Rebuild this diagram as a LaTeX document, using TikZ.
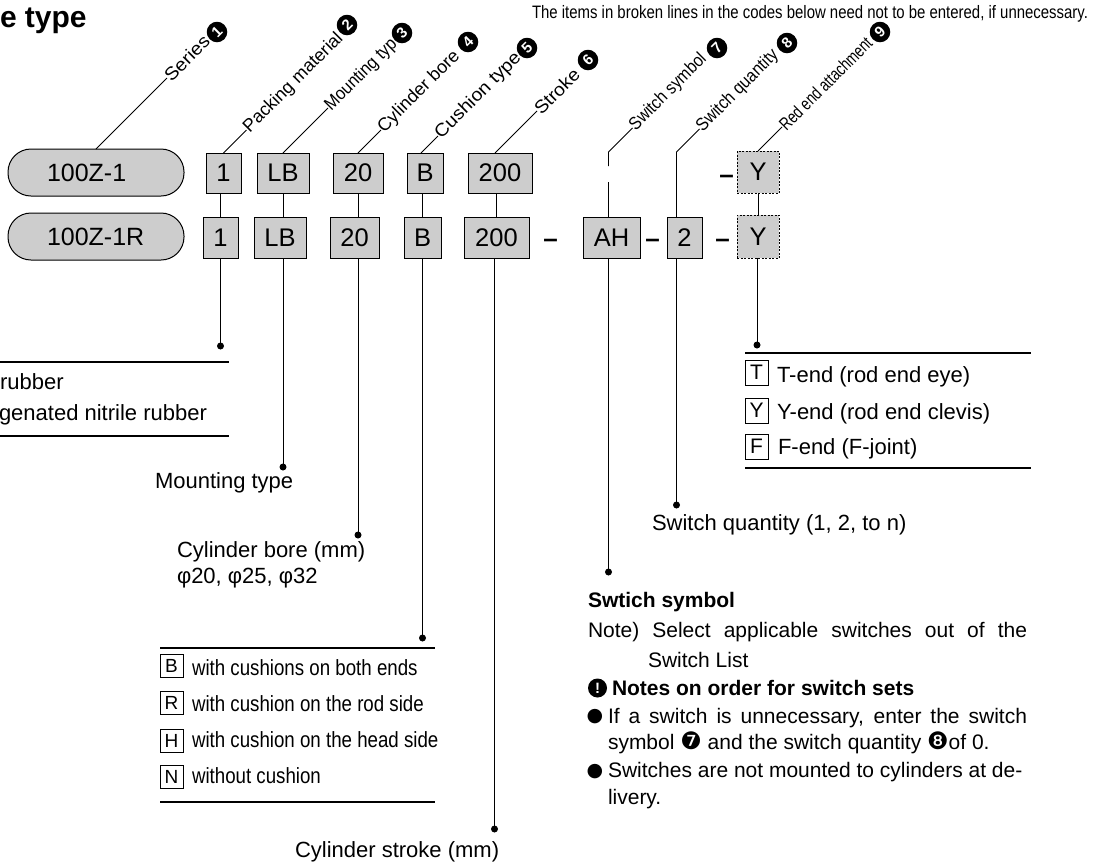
\documentclass[tikz,border=0pt]{standalone}
\usepackage{fontspec}
\setmainfont{Liberation Sans}
\newfontfamily\dv{DejaVu Sans}
\usepackage{graphicx}
\usetikzlibrary{calc}
\newcommand\fsz[1]{\fontsize{#1}{#1}\selectfont}
\definecolor{boxgray}{HTML}{CDCDCD}
\begin{document}
\begin{tikzpicture}[x=1pt,y=-1pt,
  every node/.style={inner sep=0pt, outer sep=0pt},
  codebox/.style={draw=black, fill=boxgray, line width=1pt, minimum height=40pt, font=\fsz{25.5}},
  dashbox/.style={dash pattern=on 2pt off 1.5pt, line width=0.8pt},
  pill/.style={draw=black, fill=boxgray, line width=1pt, rounded corners=23pt, minimum width=176pt, minimum height=47pt, font=\fsz{25}},
  conn/.style={line width=0.9pt},
  sepline/.style={line width=1.1pt},
  dot/.style={circle, fill=black, minimum size=7pt},
  lbl/.style={anchor=west, rotate=45, font=\fsz{18}},
  num/.style={circle, fill=black, text=white, minimum size=20.5pt, font=\bfseries\fsz{15}, rotate=45},
  body/.style={anchor=base west, font=\fsz{22}},
  rbody/.style={anchor=base west, font=\fsz{21}},
  cbox/.style={draw, line width=0.9pt, minimum width=23pt, minimum height=23pt, font=\fsz{19}},
  ebox/.style={draw, line width=0.9pt, minimum width=23pt, minimum height=25pt, font=\fsz{21}},
  bul/.style={font=\dv\fsz{19}},
  dashmark/.style={anchor=base, font=\bfseries\fsz{26}}
]
\useasboundingbox (0,0) rectangle (1095,863);

% title and note
\node[anchor=base west, font=\bfseries\fsz{30}] (title) at (0,27) {e type};
\node[anchor=base west] (note) at (532,18) {\resizebox{556pt}{\height}{\fsz{18}The items in broken lines in the codes below need not to be entered, if unnecessary.}};

% row 1
\node[pill] (p1) at (96,172.5) {\makebox[98pt][l]{100Z-1}};
\node[codebox, minimum width=35pt] (r1a) at (223.5,173) {1};
\node[codebox, minimum width=52pt] (r1b) at (283,173) {LB};
\node[codebox, minimum width=50pt] (r1c) at (358,173) {20};
\node[codebox, minimum width=36pt] (r1d) at (425,173) {B};
\node[codebox, minimum width=64pt] (r1e) at (500,173) {200};
\node[dashmark] (m4) at (726.5,183) {–};
\node[codebox, dashbox, minimum width=42pt, minimum height=42pt] (r1f) at (758,172) {Y};

% row 2
\node[pill] (p2) at (96,236.5) {\makebox[98pt][l]{100Z-1R}};
\node[codebox, minimum width=35pt, minimum height=41pt] (r2a) at (220.5,237.5) {1};
\node[codebox, minimum width=52pt, minimum height=41pt] (r2b) at (280,237.5) {LB};
\node[codebox, minimum width=49pt, minimum height=41pt] (r2c) at (354.5,237.5) {20};
\node[codebox, minimum width=37pt, minimum height=41pt] (r2d) at (422.5,237.5) {B};
\node[codebox, minimum width=65pt, minimum height=41pt] (r2e) at (496.5,237.5) {200};
\node[dashmark] (m1) at (550.5,247) {–};
\node[codebox, minimum width=57pt, minimum height=41pt] (r2g) at (611.5,237.5) {AH};
\node[dashmark] (m2) at (652.5,247) {–};
\node[codebox, minimum width=35pt, minimum height=41pt] (r2h) at (684.5,237.5) {2};
\node[dashmark] (m3) at (722.5,247) {–};
\node[codebox, dashbox, minimum width=42pt, minimum height=43pt] (r2f) at (758,236.5) {Y};

% connectors between rows
\draw[conn] (r2a.north |- r1a.south) -- (r2a.north);
\draw[conn] (r1b.south) -- (r1b.south |- r2b.north);
\draw[conn] (r1c.south) -- (r1c.south |- r2c.north);
\draw[conn] (r2d.north |- r1d.south) -- (r2d.north);
\draw[conn] (r2e.north |- r1e.south) -- (r2e.north);
\draw[conn] (r1f.south) -- (r2f.north);

% upper leaders and labels
\draw[conn] (p1.north) -- ++(71,-71) coordinate (eS);
\node[lbl] (lS) at (eS) {\resizebox{56pt}{\height}{Series}};
\node[num] (c1) at (217,32) {1};

\draw[conn] (r1a.north) -- ++(23,-23) coordinate (eP);
\node[lbl] (lP) at (eP) {\resizebox{133pt}{\height}{Packing material}};
\node[num] (c2) at (347,25) {2};

\draw[conn] (r1b.north) -- ++(45,-45) coordinate (eM);
\node[lbl] (lM) at (eM) {\resizebox{94pt}{\height}{Mounting typ}};
\node[num] (c3) at (402,33) {3};

\draw[conn] (r1c.north) -- ++(23,-23) coordinate (eB);
\node[lbl] (lB) at (eB) {\resizebox{108pt}{\height}{Cylinder bore}};
\node[num] (c4) at (468,42) {4};

\draw[conn] ($(r1d.north)+(-4,0)$) -- ++(17,-17) coordinate (eC);
\node[lbl] (lC) at (eC) {\resizebox{114pt}{\height}{Cushion type}};
\node[num] (c5) at (527,48) {5};

\draw[conn] ($(r1e.north)+(-5,0)$) -- ++(42,-42) coordinate (eSt);
\node[lbl] (lSt) at (eSt) {\resizebox{56pt}{\height}{Stroke}};
\node[num] (c6) at (588,60) {6};

\coordinate (ssb) at ($(r2g.north)+(-3,0)$);
\draw[conn] (ssb) -- (ssb |- 0,182);
\draw[conn] (ssb |- 0,166) -- (ssb |- 0,152) -- ++(24,-24) coordinate (eSS);
\node[lbl] (lSS) at (eSS) {\resizebox{101pt}{\height}{Switch symbol}};
\node[num] (c7) at (717,48) {7};

\coordinate (sqb) at ($(r2h.north)+(-8,0)$);
\draw[conn] (sqb) -- (sqb |- 0,152) -- ++(23,-23) coordinate (eSQ);
\node[lbl] (lSQ) at (eSQ) {\resizebox{108pt}{\height}{Switch quantity}};
\node[num] (c8) at (787,43) {8};

\draw[conn] (r1f.north) -- ++(24,-24) coordinate (eR);
\node[lbl] (lR) at (eR) {\resizebox{123pt}{\height}{Red end attachment}};
\node[num] (c9) at (880,32) {9};

% lower leaders
\node[dot] (dP) at (r2a.south |- 0,346) {};
\draw[conn] (r2a.south) -- (dP.center);
\node[dot] (dM) at (r1b.south |- 0,467) {};
\draw[conn] (r2b.south -| dM) -- (dM.center);
\node[dot] (dB) at (r1c.south |- 0,535) {};
\draw[conn] (r2c.south -| dB) -- (dB.center);
\node[dot] (dC) at (r2d.south |- 0,638) {};
\draw[conn] (r2d.south) -- (dC.center);
\node[dot] (dSt) at ($(r2e.south |- 0,829)+(-2,0)$) {};
\draw[conn] (r2e.south -| dSt) -- (dSt.center);
\node[dot] (dSS) at (ssb |- 0,572) {};
\draw[conn] (ssb |- r2g.south) -- (dSS.center);
\node[dot] (dSQ) at (sqb |- 0,505) {};
\draw[conn] (sqb |- r2h.south) -- (dSQ.center);
\node[dot] (dR) at ($(r2f.south |- 0,345)+(-1,0)$) {};
\draw[conn] (r2f.south -| dR) -- (dR.center);

% packing material
\draw[sepline] (0,362) -- (229,362);
\node[body] (pk1) at (0,389) {rubber};
\node[body] (pk2) at (-1,420) {genated nitrile rubber};
\draw[sepline] (0,436) -- (229,436);

% mounting, bore
\node[body] (tM) at (155,488) {Mounting type};
\node[body] (tB1) at (177,557) {Cylinder bore (mm)};
\node[body] (tB2) at (177,583) {φ20, φ25, φ32};

% cushion
\draw[sepline] (160,648) -- (435,648);
\node[cbox] (kB) at (171.5,666) {B};
\node[body] (kBt) at (192,675) {\scalebox{0.85}[1]{with cushions on both ends}};
\node[cbox] (kR) at (171.5,703) {R};
\node[body] (kRt) at (192,711) {\scalebox{0.85}[1]{with cushion on the rod side}};
\node[cbox] (kH) at (171.5,741) {H};
\node[body] (kHt) at (192,747) {\scalebox{0.85}[1]{with cushion on the head side}};
\node[cbox] (kN) at (171.5,777) {N};
\node[body] (kNt) at (192,783) {\scalebox{0.85}[1]{without cushion}};
\draw[sepline] (160,802) -- (435,802);

% stroke
\node[body] (tSt) at (295,857) {Cylinder stroke (mm)};

% rod end
\draw[sepline] (745,353) -- (1031,353);
\node[ebox] (eT) at (756.5,372.5) {T};
\node[body] (eTt) at (777,382) {T-end (rod end eye)};
\node[ebox] (eY) at (756.5,410.5) {Y};
\node[body] (eYt) at (777,419) {Y-end (rod end clevis)};
\node[ebox] (eF) at (756.5,446.5) {F};
\node[body] (eFt) at (778,454) {F-end (F-joint)};
\draw[sepline] (745,468) -- (1031,468);

% switch quantity
\node[body] (tSQ) at (652,530) {Switch quantity (1, 2, to n)};

% switch symbol block
\node[anchor=base west, font=\bfseries\fsz{21}] (sw) at (588,607) {Swtich symbol};
\node[rbody] (n1) at (588,637) {\makebox[439pt][s]{Note) Select applicable switches out of the}};
\node[rbody] (n2) at (648,667) {Switch List};
\node[circle, fill=black, minimum size=19pt, text=white, font=\bfseries\fsz{15}] (ex) at (597.5,688) {!};
\node[anchor=base west, font=\bfseries\fsz{21}] (nt) at (612,695) {Notes on order for switch sets};
\node[bul] (b1) at (595,717) {●};
\node[rbody] (l1) at (608,723) {\makebox[419pt][s]{If a switch is unnecessary, enter the switch}};
\node[rbody] (l2) at (608,749) {symbol {\dv\fsz{24}❼} and the switch quantity {\dv\fsz{24}❽}of 0.};
\node[bul] (b2) at (595,772) {●};
\node[rbody] (l3) at (608,777) {Switches are not mounted to cylinders at de-};
\node[rbody] (l4) at (608,804) {livery.};
\end{tikzpicture}
\end{document}
